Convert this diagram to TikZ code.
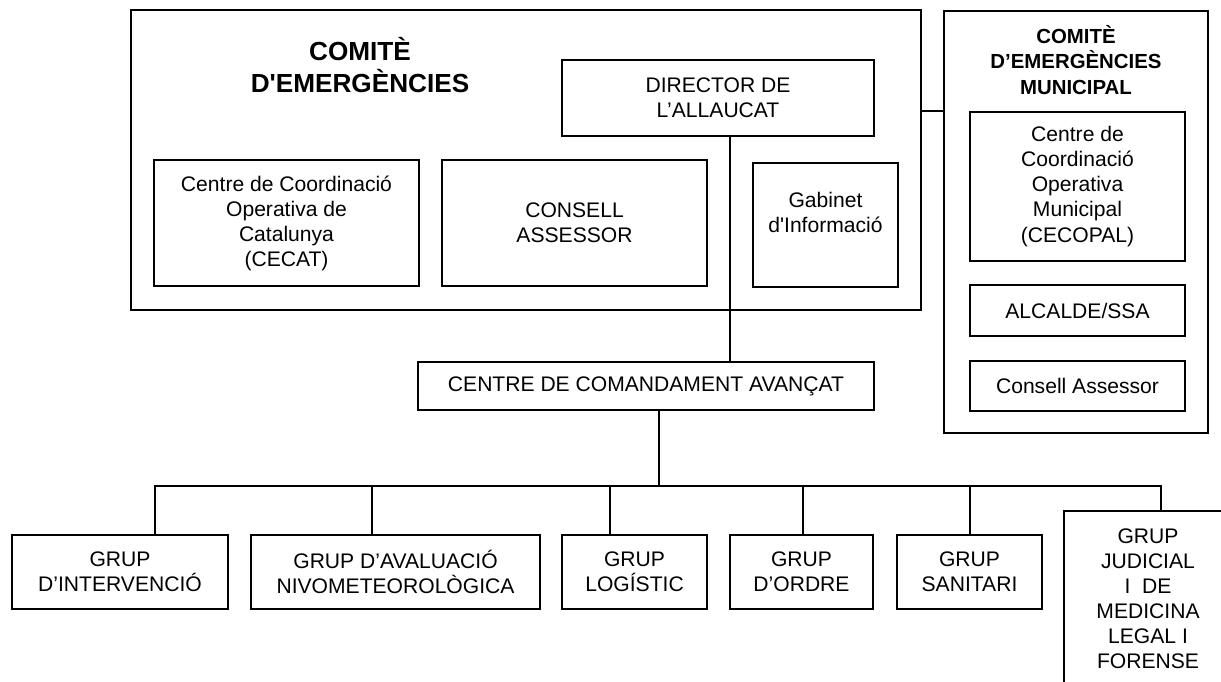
\documentclass[tikz,border=0pt]{standalone}
\usepackage{fontspec}
\setmainfont{Liberation Sans}
\newcommand{\boxfont}{\fontsize{15}{17.8}\selectfont}
\newcommand{\titlefont}{\fontsize{18.6}{22.7}\selectfont\bfseries}
\newcommand{\subtitlefont}{\fontsize{14.5}{18.1}\selectfont\bfseries}

\begin{document}
\begin{tikzpicture}[x=0.025cm,y=-0.025cm,line width=1.3pt]
	\path[use as bounding box,clip] (0,0) rectangle (1221,682);
	\begin{scope}[every node/.style={draw,rectangle,align=center,inner sep=0pt,font=\boxfont}]
		% comite d'emergencies
		\node[minimum width=19.75cm,minimum height=7.5cm] (cem) at (526,160) {};
		\node[draw=none,font=\titlefont] (tcem) at (360,65) {COMITÈ\\D\textquotesingle EMERGÈNCIES};
		\node[minimum width=7.8cm,minimum height=1.9cm] (dir) at (718,98) {DIRECTOR DE\\L’ALLAUCAT};
		\node[minimum width=6.625cm,minimum height=3.15cm] (cecat) at (286.5,223) {Centre de Coordinació\\Operativa de\\Catalunya\\(CECAT)};
		\node[minimum width=6.625cm,minimum height=3.15cm] (cons) at (574.5,223) {CONSELL\\ASSESSOR};
		\node[minimum width=3.625cm,minimum height=3.1cm] (gab) at (825.5,225) {Gabinet\\d\textquotesingle Informació\\\mbox{}};
		% comite municipal
		\node[minimum width=6.6cm,minimum height=10.55cm] (mun) at (1076,222) {};
		\node[draw=none,font=\subtitlefont] (tmun) at (1076,60) {COMITÈ\\D’EMERGÈNCIES\\MUNICIPAL};
		\node[minimum width=5.375cm,minimum height=3.725cm] (cecopal) at (1077.5,186.5) {Centre de\\Coordinació\\Operativa\\Municipal\\(CECOPAL)};
		\node[minimum width=5.375cm,minimum height=1.275cm] (alc) at (1077.5,310.5) {ALCALDE/SSA};
		\node[minimum width=5.375cm,minimum height=1.25cm] (mcons) at (1077.5,386) {Consell Assessor};
		% comandament i grups
		\node[minimum width=11.4cm,minimum height=1.2cm] (cca) at (646,386) {CENTRE DE COMANDAMENT AVANÇAT};
		\node[minimum width=5.4cm,minimum height=1.85cm] (g1) at (120,572) {GRUP\\D’INTERVENCIÓ};
		\node[minimum width=7.225cm,minimum height=1.85cm] (g2) at (395.5,572) {GRUP D’AVALUACIÓ\\NIVOMETEOROLÒGICA};
		\node[minimum width=3.625cm,minimum height=1.85cm] (g3) at (634.5,572) {GRUP\\LOGÍSTIC};
		\node[minimum width=3.575cm,minimum height=1.85cm] (g4) at (801.5,572) {GRUP\\D’ORDRE};
		\node[minimum width=3.625cm,minimum height=1.85cm] (g5) at (969.5,572) {GRUP\\SANITARI};
		\node[minimum width=4.2cm,minimum height=4.4cm] (g6) at (1148,599) {GRUP\\JUDICIAL\\I\ \ DE\\MEDICINA\\LEGAL I\\FORENSE};
	\end{scope}
	\coordinate (dx) at (730,0);
	\coordinate (lnk) at (930,111);
	\coordinate (cx) at (659,486);
	\coordinate (b1) at (155,486);
	\coordinate (b2) at (372,486);
	\coordinate (b3) at (610,486);
	\coordinate (b4) at (803,486);
	\coordinate (b5) at (970,486);
	\coordinate (b6) at (1161,486);
	\draw (dir.south -| dx) -- (cca.north -| dx);
	\draw (cem.east |- lnk) -- (mun.west |- lnk);
	\draw (cca.south -| cx) -- (cx);
	\draw (g1.north -| b1) -- (b1) -- (b6) -- (g6.north -| b6);
	\foreach \b/\g in {b2/g2,b3/g3,b4/g4,b5/g5}
		\draw (\b) -- (\g.north -| \b);
	
\end{tikzpicture}
\end{document}
